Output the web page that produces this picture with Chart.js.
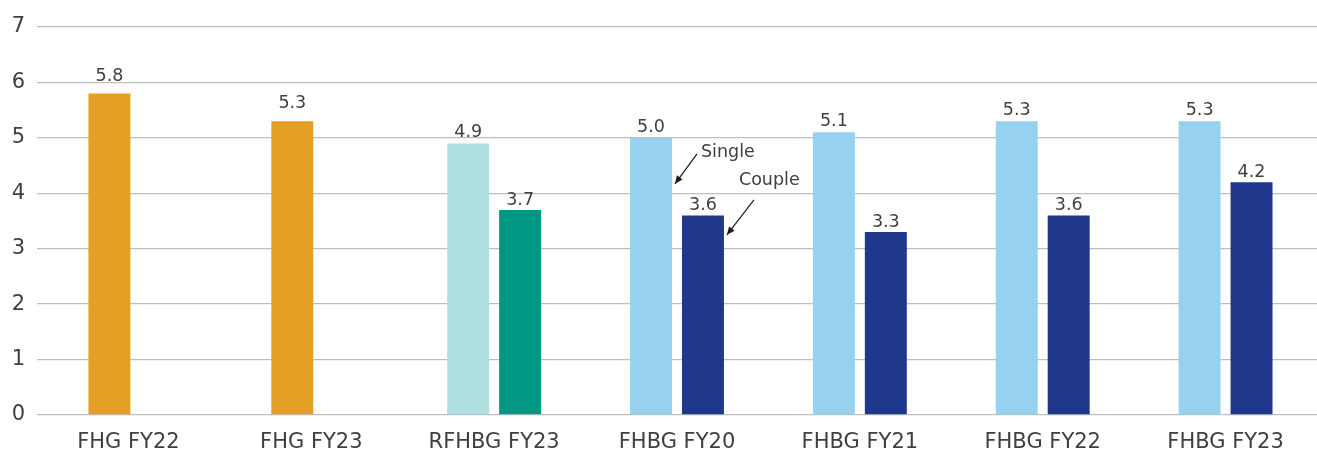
<!DOCTYPE html>
<html>
<head>
<meta charset="utf-8">
<script src="https://cdn.jsdelivr.net/npm/chart.js@4/dist/chart.umd.min.js"></script>
<style>
  html, body { margin: 0; padding: 0; background: #fff; }
  #wrap { width: 1317px; height: 452px; position: relative; }
</style>
</head>
<body>
<div id="wrap"><canvas id="c"></canvas></div>
<script>
// Categories and series values
const categories = ['FHG FY22', 'FHG FY23', 'RFHBG FY23', 'FHBG FY20', 'FHBG FY21', 'FHBG FY22', 'FHBG FY23'];
const fhgValues    = [5.8, 5.3, null, null, null, null, null];
const singleValues = [null, null, 4.9, 5.0, 5.1, 5.3, 5.3];
const coupleValues = [null, null, 3.7, 3.6, 3.3, 3.6, 4.2];
const yTicks = [0, 1, 2, 3, 4, 5, 6, 7];

const ORANGE = '#E3A024';
const PALE_TEAL = '#AEDFE0';
const TEAL = '#009882';
const LIGHT_BLUE = '#96D2F0';
const NAVY = '#20388C';

const singleColors = [null, null, PALE_TEAL, LIGHT_BLUE, LIGHT_BLUE, LIGHT_BLUE, LIGHT_BLUE];
const coupleColors = [null, null, TEAL, NAVY, NAVY, NAVY, NAVY];

const FONT = "'DejaVu Sans', Verdana, sans-serif";
const TEXT = '#404040';

// Value labels above each bar
const valueLabels = {
  id: 'valueLabels',
  afterDatasetsDraw(chart) {
    const ctx = chart.ctx;
    ctx.save();
    ctx.font = '17.5px ' + FONT;
    ctx.fillStyle = TEXT;
    ctx.textAlign = 'center';
    ctx.textBaseline = 'alphabetic';
    chart.data.datasets.forEach((ds, di) => {
      const meta = chart.getDatasetMeta(di);
      const gap = ds.labelGap;
      meta.data.forEach((bar, i) => {
        const v = ds.data[i];
        if (v === null || v === undefined) return;
        ctx.fillText(v.toFixed(1), bar.x, bar.y - gap);
      });
    });
    ctx.restore();
  }
};

// "Single" / "Couple" callouts on the FHBG FY20 pair
const callouts = {
  id: 'callouts',
  afterDatasetsDraw(chart) {
    const ctx = chart.ctx;
    const y = chart.scales.y;
    const idx = categories.indexOf('FHBG FY20');
    const b0 = chart.getDatasetMeta(1).data[idx];
    const b1 = chart.getDatasetMeta(2).data[idx];
    const r0 = b0.x + b0.width / 2;
    const r1 = b1.x + b1.width / 2;

    function arrow(x1, y1, x2, y2) {
      ctx.beginPath();
      ctx.moveTo(x1, y1);
      ctx.lineTo(x2, y2);
      ctx.stroke();
      const a = Math.atan2(y2 - y1, x2 - x1);
      const L = 8, W = 3.5;
      ctx.beginPath();
      ctx.moveTo(x2, y2);
      ctx.lineTo(x2 - L * Math.cos(a) + W * Math.sin(a), y2 - L * Math.sin(a) - W * Math.cos(a));
      ctx.lineTo(x2 - L * Math.cos(a) - W * Math.sin(a), y2 - L * Math.sin(a) + W * Math.cos(a));
      ctx.closePath();
      ctx.fill();
    }

    ctx.save();
    ctx.strokeStyle = '#1a1a1a';
    ctx.fillStyle = '#1a1a1a';
    ctx.lineWidth = 1.2;
    const sTipX = r0 + 3, sTipY = y.getPixelForValue(4.17);
    arrow(sTipX + 22, sTipY - 30, sTipX, sTipY);
    const cTipX = r1 + 3, cTipY = y.getPixelForValue(3.25);
    arrow(cTipX + 27, cTipY - 35, cTipX, cTipY);

    ctx.font = '17.5px ' + FONT;
    ctx.fillStyle = TEXT;
    ctx.textAlign = 'left';
    ctx.textBaseline = 'middle';
    ctx.fillText('Single', sTipX + 26, sTipY - 31);
    ctx.fillText('Couple', cTipX + 12, cTipY - 54);
    ctx.restore();
  }
};

new Chart(document.getElementById('c'), {
  type: 'bar',
  data: {
    labels: categories,
    datasets: [
      { label: 'FHG', data: fhgValues, backgroundColor: ORANGE, borderWidth: 0,
        stack: 'first', categoryPercentage: 0.4155, barPercentage: 1.105, labelGap: 13 },
      { label: 'Single', data: singleValues, backgroundColor: singleColors, borderWidth: 0,
        stack: 'first', categoryPercentage: 0.568, barPercentage: 0.808, labelGap: 6 },
      { label: 'Couple', data: coupleValues, backgroundColor: coupleColors, borderWidth: 0,
        stack: 'second', categoryPercentage: 0.568, barPercentage: 0.808, labelGap: 5 }
    ]
  },
  options: {
    responsive: true,
    maintainAspectRatio: false,
    animation: false,
    layout: { padding: { top: 27, right: 0, left: 0, bottom: 0 } },
    plugins: { legend: { display: false }, tooltip: { enabled: false } },
    scales: {
      x: {
        grid: { display: false, drawTicks: false },
        border: { display: false },
        afterFit(axis) { axis.height = 37; },
        ticks: { color: TEXT, font: { family: FONT, size: 21 }, padding: 15, maxRotation: 0 }
      },
      y: {
        min: 0,
        max: 7,
        stacked: false,
        afterBuildTicks(axis) { axis.ticks = yTicks.map(v => ({ value: v })); },
        afterFit(axis) { axis.width = 37; },
        grid: { color: '#BEBEBE', lineWidth: 1.3, drawTicks: false },
        border: { display: false },
        ticks: { color: TEXT, font: { family: FONT, size: 21 }, padding: 12 }
      }
    }
  },
  plugins: [valueLabels, callouts]
});
</script>
</body>
</html>
